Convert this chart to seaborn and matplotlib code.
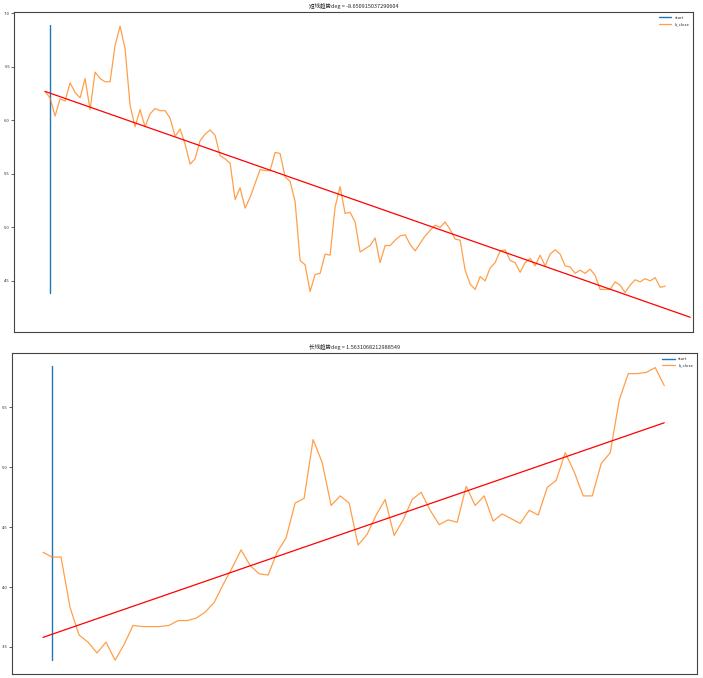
import numpy as np
import pandas as pd
import seaborn as sns
from matplotlib import pyplot as plt

# short trend (top chart)
short_close = [6.27, 6.21, 6.04, 6.20, 6.18, 6.35, 6.26, 6.21, 6.39, 6.10,
               6.45, 6.39, 6.36, 6.36, 6.70, 6.88, 6.67, 6.14, 5.94, 6.10,
               5.94, 6.06, 6.11, 6.09, 6.09, 6.02, 5.85, 5.92, 5.78, 5.59,
               5.64, 5.81, 5.87, 5.91, 5.86, 5.67, 5.64, 5.60, 5.26, 5.37,
               5.18, 5.28, 5.41, 5.54, 5.53, 5.53, 5.70, 5.69, 5.47, 5.43,
               5.24, 4.69, 4.65, 4.40, 4.56, 4.57, 4.75, 4.74, 5.19, 5.38,
               5.13, 5.14, 5.05, 4.77, 4.80, 4.83, 4.90, 4.67, 4.83, 4.83,
               4.88, 4.92, 4.93, 4.84, 4.78, 4.85, 4.92, 4.97, 5.02, 5.00,
               5.05, 4.98, 4.89, 4.88, 4.60, 4.47, 4.42, 4.54, 4.50, 4.62,
               4.67, 4.78, 4.79, 4.69, 4.67, 4.58, 4.67, 4.71, 4.64, 4.74,
               4.64, 4.75, 4.79, 4.75, 4.64, 4.63, 4.57, 4.60, 4.57, 4.61,
               4.55, 4.42, 4.42, 4.42, 4.49, 4.46, 4.39, 4.46, 4.51, 4.49,
               4.52, 4.50, 4.53, 4.44, 4.45]
short_trend_x = [0, 129]
short_trend_y = [6.27, 4.16]
short_mark_x = 1
short_mark_y = [4.39, 6.89]
short_title = "短线趋势deg = -8.650915037290604"

# long trend (bottom chart)
long_close = [4.29, 4.25, 4.25, 3.83, 3.60, 3.54, 3.45, 3.54, 3.39, 3.52,
              3.68, 3.67, 3.67, 3.67, 3.68, 3.72, 3.72, 3.74, 3.79, 3.87,
              4.02, 4.16, 4.31, 4.18, 4.11, 4.10, 4.29, 4.41, 4.70, 4.74,
              5.23, 5.04, 4.68, 4.76, 4.70, 4.35, 4.44, 4.60, 4.73, 4.43,
              4.56, 4.73, 4.79, 4.64, 4.52, 4.56, 4.54, 4.84, 4.68, 4.76,
              4.55, 4.61, 4.57, 4.53, 4.64, 4.60, 4.83, 4.89, 5.12, 4.96,
              4.76, 4.76, 5.03, 5.12, 5.56, 5.78, 5.78, 5.79, 5.83, 5.68]
long_trend_x = [0, 69]
long_trend_y = [3.58, 5.37]
long_mark_x = 1
long_mark_y = [3.39, 5.84]
long_title = "长线趋势deg = 1.5631068212988549"

legend_labels = ["start", "k_close"]

sns.set_style("white")
plt.rcParams['font.family'] = ['Noto Sans CJK SC', 'DejaVu Sans']

fig = plt.figure(figsize=(7.03, 6.78), dpi=100)
ax1 = fig.add_axes([0.020, 0.510, 0.966, 0.472])
ax2 = fig.add_axes([0.017, 0.006, 0.974, 0.473])


def draw(ax, close, trend_x, trend_y, mark_x, mark_y, title, xlim, ylim, yticks):
    ax.plot([mark_x, mark_x], mark_y, color='#1f77b4', lw=1.0, label=legend_labels[0])
    df = pd.DataFrame({'x': np.arange(len(close)), 'close': close})
    sns.lineplot(data=df, x='x', y='close', ax=ax, color='#ff7f0e', alpha=0.75,
                 lw=0.9, label=legend_labels[1])
    sns.lineplot(x=trend_x, y=trend_y, ax=ax, color='red', lw=0.9)
    ax.set_xlim(*xlim)
    ax.set_ylim(*ylim)
    ax.set_xticks([])
    ax.set_yticks(yticks)
    ax.set_yticklabels([f"{t:.1f}" for t in yticks])
    ax.tick_params(axis='y', labelsize=3, length=2, width=0.5, pad=1, left=True)
    ax.set_xlabel('')
    ax.set_ylabel('')
    ax.set_title(title, fontsize=4, pad=3)
    for s in ax.spines.values():
        s.set_color('#444444')
        s.set_linewidth(0.8)
    ax.legend(loc='upper right', fontsize=3, frameon=False, handlelength=3)


draw(ax1, short_close, short_trend_x, short_trend_y, short_mark_x, short_mark_y,
     short_title, (-6.2, 129.6), (4.02, 7.01), [4.5, 5.0, 5.5, 6.0, 6.5, 7.0])
draw(ax2, long_close, long_trend_x, long_trend_y, long_mark_x, long_mark_y,
     long_title, (-3.45, 72.6), (3.275, 5.95), [3.5, 4.0, 4.5, 5.0, 5.5])

fig.savefig('out.png', dpi=100)
